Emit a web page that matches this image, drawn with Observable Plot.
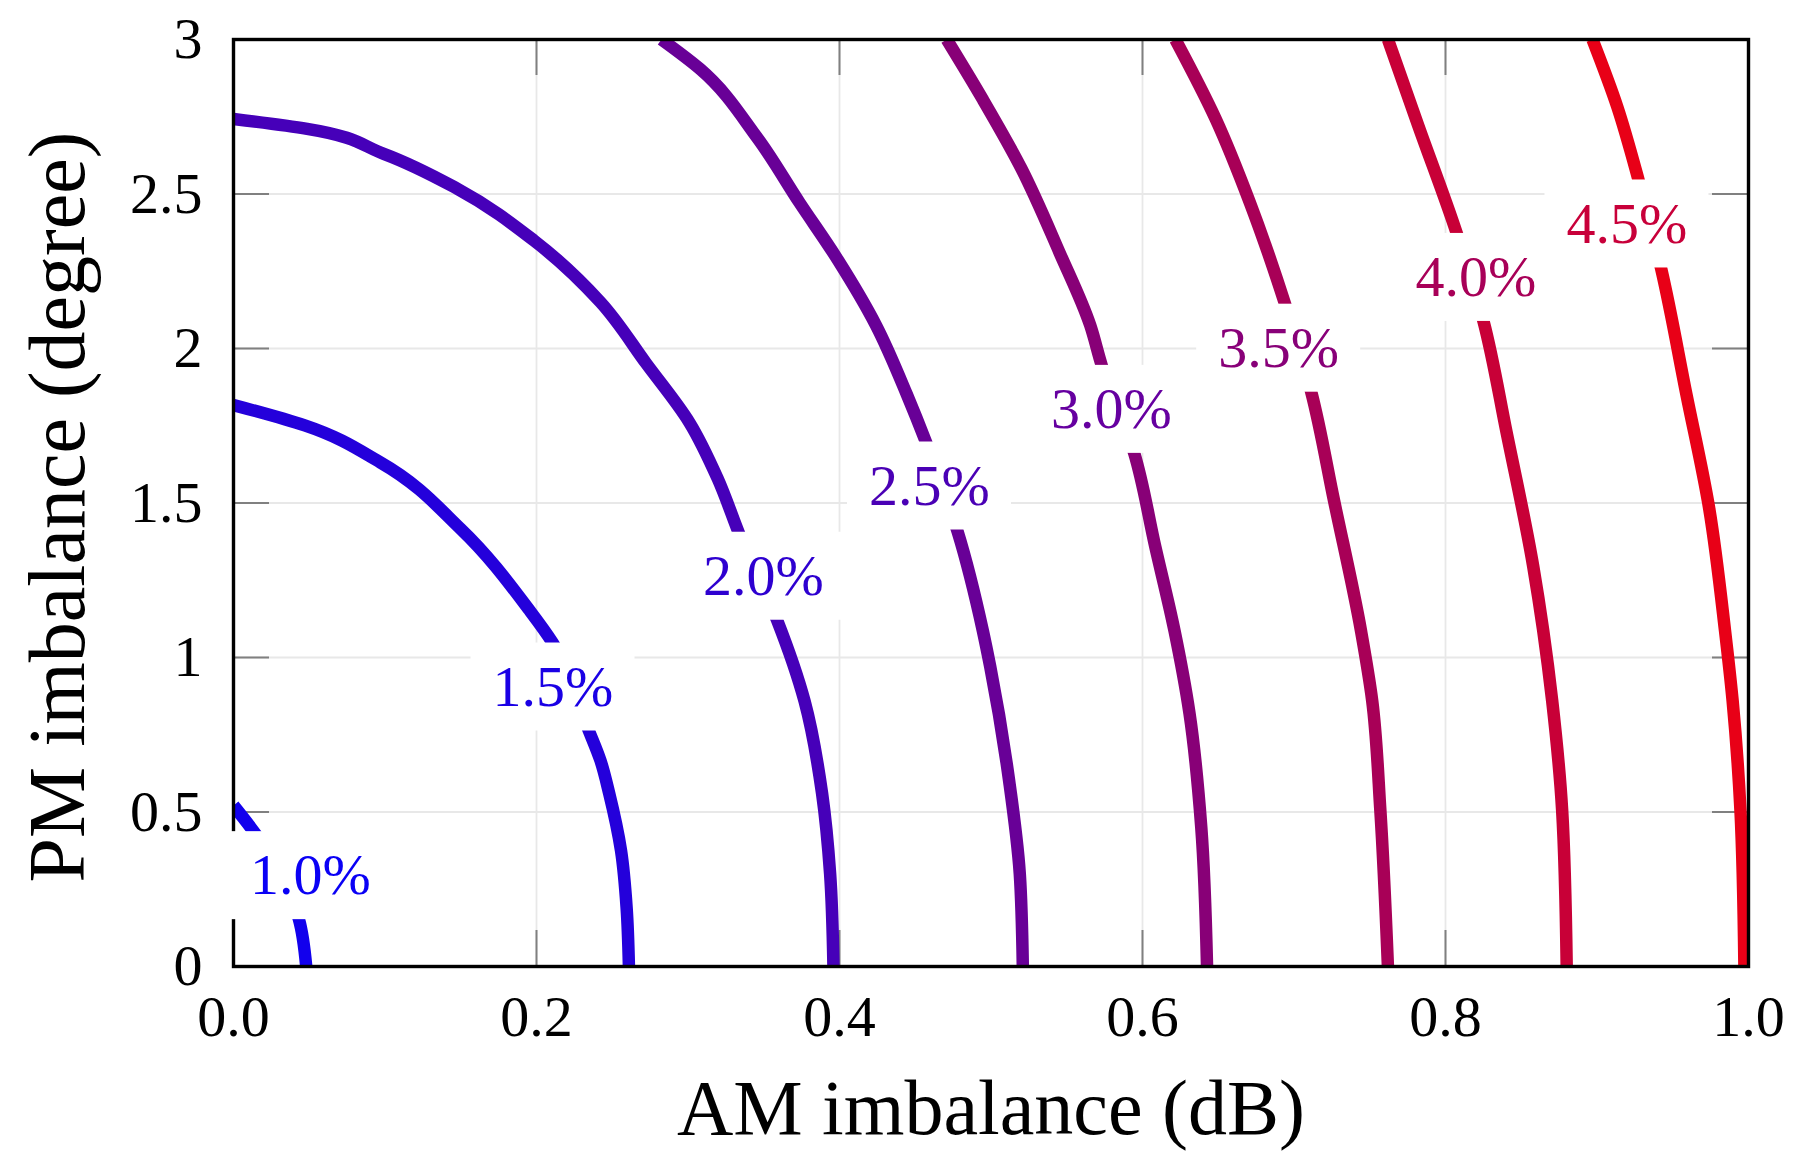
<!DOCTYPE html>
<html>
<head>
<meta charset="utf-8">
<script src="https://cdn.jsdelivr.net/npm/d3@7"></script>
<script src="https://cdn.jsdelivr.net/npm/@observablehq/plot@0.6"></script>
<style>
  html, body { margin: 0; padding: 0; background: #ffffff; }
  #chart { width: 1802px; height: 1163px; }
</style>
</head>
<body>
<div id="chart"></div>
<script>
// ---- data ----
const levels = [1.0, 1.5, 2.0, 2.5, 3.0, 3.5, 4.0, 4.5];
const levelLabels = ["1.0%", "1.5%", "2.0%", "2.5%", "3.0%", "3.5%", "4.0%", "4.5%"];
const lineColors = ["#1200ed", "#2400db", "#4600b9", "#680097", "#880077", "#a80057", "#c80037", "#e80017"];
const textColors = ["#0a00f5", "#1a00e5", "#2e00d0", "#4a00b5", "#6600a0", "#880078", "#a80058", "#c8003a"];

// contour polylines [AM imbalance (dB), PM imbalance (degree)]
const contour10 = [[0, 0.521], [0.0145, 0.429], [0.0431, 0.154], [0.048, 0]];
const contour15 = [[0, 1.817], [0.047, 1.751], [0.097, 1.631], [0.150, 1.416], [0.195, 1.155], [0.2106, 1.048],
  [0.2345, 0.764], [0.2422, 0.667], [0.248, 0.56], [0.2558, 0.375], [0.2595, 0.189], [0.261, 0]];
const contour20 = [[0, 2.743], [0.0486, 2.711], [0.0992, 2.630], [0.1477, 2.517], [0.1982, 2.350],
  [0.2422, 2.15], [0.2725, 1.951], [0.3010, 1.760], [0.3195, 1.58], [0.3347, 1.389], [0.3589, 1.12],
  [0.377, 0.858], [0.3885, 0.56], [0.3938, 0.30], [0.396, 0]];
const contour25 = [[0.2825, 3.0], [0.3078, 2.905], [0.3457, 2.682], [0.3736, 2.472], [0.399, 2.286], [0.4241, 2.075],
  [0.4444, 1.852], [0.457, 1.698], [0.478, 1.407], [0.4946, 1.087], [0.4995, 0.97], [0.512, 0.6], [0.519, 0.30], [0.521, 0]];
const contour30 = [[0.4708, 3.0], [0.4946, 2.806], [0.52, 2.583], [0.5452, 2.311], [0.5655, 2.075], [0.5731, 1.945],
  [0.5946, 1.66], [0.6085, 1.357], [0.6211, 1.087], [0.631, 0.82], [0.6388, 0.45], [0.6426, 0]];
const contour35 = [[0.6217, 3.0], [0.6482, 2.744], [0.6709, 2.472], [0.6937, 2.15], [0.7114, 1.859], [0.7265, 1.506],
  [0.7442, 1.087], [0.7516, 0.861], [0.757, 0.505], [0.762, 0]];
const contour40 = [[0.762, 3.0], [0.7822, 2.719], [0.8074, 2.373], [0.8251, 2.088], [0.8403, 1.729], [0.8579, 1.295],
  [0.8645, 1.087], [0.8704, 0.861], [0.877, 0.505], [0.880, 0]];
const contour45 = [[0.897, 3.0], [0.9134, 2.782], [0.9274, 2.546], [0.9425, 2.255], [0.959, 1.852], [0.9741, 1.481],
  [0.9845, 1.087], [0.9895, 0.861], [0.9947, 0.505], [0.9973, 0]];
const contours = [contour10, contour15, contour20, contour25, contour30, contour35, contour40, contour45];

// inline contour label positions
const labelX = [0.0508, 0.2109, 0.3498, 0.4594, 0.5795, 0.6899, 0.820, 0.9198];
const labelY = [0.294, 0.9045, 1.263, 1.555, 1.803, 2.001, 2.230, 2.403];

const xTicks = [0, 0.2, 0.4, 0.6, 0.8, 1.0];
const yTicks = [0, 0.5, 1, 1.5, 2, 2.5, 3];
const xTitle = "AM imbalance (dB)";
const yTitle = "PM imbalance (degree)";

// ---- layout / style ----
const W = 1802, H = 1163;
const mL = 233, mR = 54, mT = 39, mB = 197;
const plotW = W - mL - mR, plotH = H - mT - mB;
const tickLen = 36;
const font = "'Liberation Serif', 'DejaVu Serif', serif";

const labelRows = levels.map((lv, i) => ({level: lv, x: labelX[i], y: labelY[i], text: levelLabels[i], color: textColors[i]}));

const marks = [
  Plot.gridX(xTicks, {stroke: "#e8e8e8", strokeOpacity: 1, strokeWidth: 1.8}),
  Plot.gridY(yTicks, {stroke: "#e8e8e8", strokeOpacity: 1, strokeWidth: 1.8}),
  // inward ticks on all four sides
  Plot.ruleX(xTicks, {x: d => d, stroke: "#808080", strokeWidth: 2, insetTop: plotH - tickLen}),
  Plot.ruleX(xTicks, {x: d => d, stroke: "#808080", strokeWidth: 2, insetBottom: plotH - tickLen}),
  Plot.ruleY(yTicks, {y: d => d, stroke: "#808080", strokeWidth: 2, insetRight: plotW - tickLen}),
  Plot.ruleY(yTicks, {y: d => d, stroke: "#808080", strokeWidth: 2, insetLeft: plotW - tickLen}),
];

contours.forEach((pts, i) => {
  // ordered by increasing PM imbalance for the monotone-y curve
  marks.push(Plot.line(pts.slice().reverse(), {x: d => d[0], y: d => d[1], stroke: lineColors[i], strokeWidth: 12.5,
    curve: "monotone-y", strokeLinejoin: "round", strokeLinecap: "butt", clip: true}));
});

marks.push(Plot.frame({stroke: "black", strokeWidth: 3.4}));

// white label boxes + labels
marks.push(Plot.rect(labelRows, {x1: "x", x2: "x", y1: "y", y2: "y", fill: "white",
  insetLeft: -82, insetRight: -82, insetTop: -44, insetBottom: -44}));
labelRows.forEach(r => {
  marks.push(Plot.text([r], {x: "x", y: "y", text: "text", fill: r.color, fontSize: 58,
    textAnchor: "middle", lineAnchor: "middle"}));
});

marks.push(
  Plot.axisX(xTicks, {tickFormat: d3.format(".1f"), tickSize: 0, tickPadding: 28, fontSize: 58, label: null}),
  Plot.axisY(yTicks, {tickFormat: d => String(d), tickSize: 0, tickPadding: 31, fontSize: 58, label: null}),
  Plot.text([xTitle], {frameAnchor: "bottom", dy: 167, text: d => d, fontSize: 78,
    textAnchor: "middle", lineAnchor: "bottom", fill: "black"}),
  Plot.text([yTitle], {frameAnchor: "left", dx: -150, dy: 4, text: d => d, fontSize: 80, rotate: -90,
    textAnchor: "middle", lineAnchor: "bottom", fill: "black"})
);

const chart = Plot.plot({
  width: W, height: H,
  marginLeft: mL, marginRight: mR, marginTop: mT, marginBottom: mB,
  x: {domain: [0, 1]},
  y: {domain: [0, 3]},
  style: {fontFamily: font, background: "white", color: "black", overflow: "visible"},
  marks
});
document.getElementById("chart").appendChild(chart);
</script>
</body>
</html>
